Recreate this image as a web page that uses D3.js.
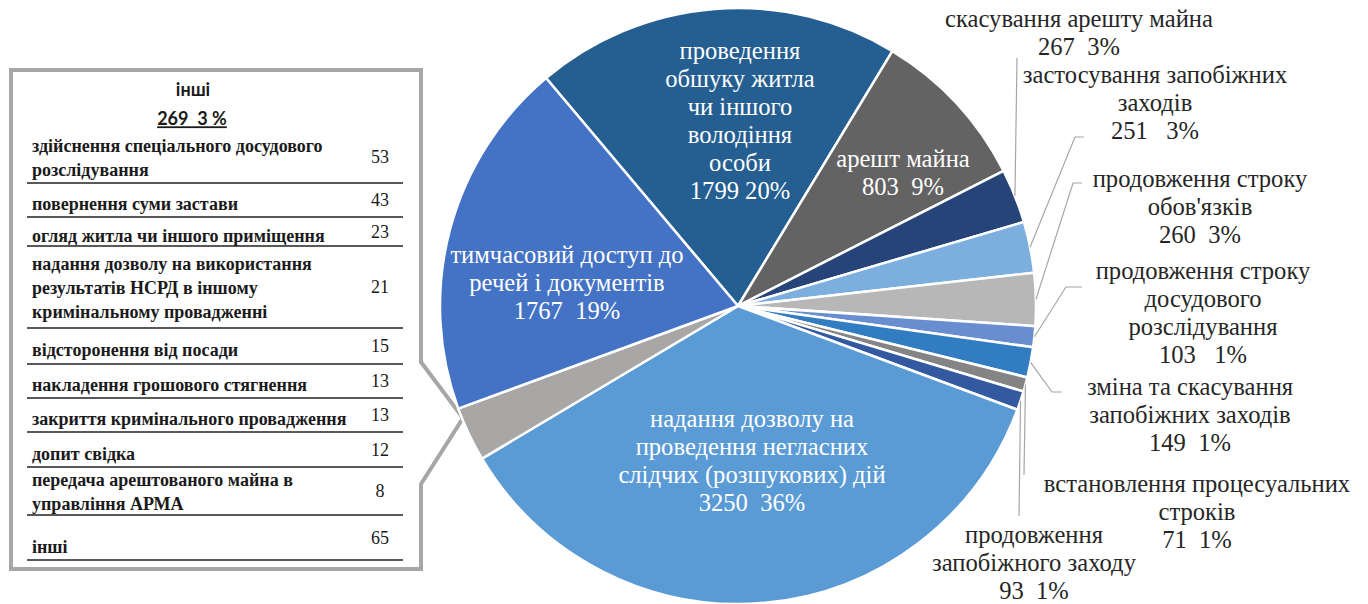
<!DOCTYPE html>
<html>
<head>
<meta charset="utf-8">
<script src="https://cdn.jsdelivr.net/npm/d3@7"></script>
<style>
  body { margin: 0; background: #fff; }
</style>
</head>
<body>
<script>
// slices, clockwise from the "проведення обшуку" slice
const categories = [
  ["проведення", "обшуку житла", "чи іншого", "володіння", "особи"],
  ["арешт майна"],
  ["скасування арешту майна"],
  ["застосування запобіжних", "заходів"],
  ["продовження строку", "обов'язків"],
  ["продовження строку", "досудового", "розслідування"],
  ["зміна та скасування", "запобіжних заходів"],
  ["встановлення процесуальних", "строків"],
  ["продовження", "запобіжного заходу"],
  ["надання дозволу на", "проведення негласних", "слідчих (розшукових) дій"],
  ["інші"],
  ["тимчасовий доступ до", "речей і документів"]
];
const values = [1799, 803, 267, 251, 260, 103, 149, 71, 93, 3250, 269, 1767];
const percents = ["20%", "9%", "3%", "3%", "3%", "1%", "1%", "1%", "1%", "36%", "3%", "19%"];
const valueGaps = [" ", "  ", "  ", "   ", "  ", "   ", "  ", "  ", "  ", "  ", "  ", "  "];

// breakdown of "інші"
const otherTitle = "інші";
const otherTotal = "269  3 %";
const otherLabels = [
  ["здійснення спеціального досудового", "розслідування"],
  ["повернення суми застави"],
  ["огляд житла чи іншого приміщення"],
  ["надання дозволу на використання", "результатів НСРД в іншому", "кримінальному провадженні"],
  ["відсторонення від посади"],
  ["накладення грошового стягнення"],
  ["закриття кримінального провадження"],
  ["допит свідка"],
  ["передача арештованого майна в", "управління АРМА"],
  ["інші"]
];
const otherValues = [53, 43, 23, 21, 15, 13, 13, 12, 8, 65];

const colors = ["#255e91", "#636363", "#264478", "#7cafdd", "#b7b7b7", "#698ed0",
                "#327dc2", "#848484", "#335aa1", "#5b9bd5", "#a9a6a6", "#4472c4"];

const width = 1368, height = 604;
const cx = 738, cy = 306, R = 298;
const startDeg = -40.1;
const fs = 24.6, lh = 28;
const SERIF = "Liberation Serif";
const SANS = "Lato";

const svg = d3.select("body").append("svg")
  .attr("width", width).attr("height", height);

// text helper: inline styles so the font can't be overridden
function txt(sel, family, size, weight) {
  return sel.append("text")
    .style("font-family", family)
    .style("font-size", size + "px")
    .style("font-weight", weight || "normal")
    .style("white-space", "pre");
}

// ---- callout box with the "інші" breakdown
const box = {x0: 11, y0: 70, x1: 421, y1: 569, wTop: 362, wBot: 484, tip: [463, 418]};
svg.append("path")
  .attr("d", `M${box.x0},${box.y0}H${box.x1}V${box.wTop}L${box.tip[0]},${box.tip[1]}L${box.x1},${box.wBot}V${box.y1}H${box.x0}Z`)
  .attr("fill", "#fff").attr("stroke", "#a6a6a6").attr("stroke-width", 4)
  .attr("stroke-linejoin", "miter");

txt(svg, SANS, 18, "bold").attr("x", 193).attr("y", 90).attr("dy", "0.35em")
  .attr("text-anchor", "middle").attr("fill", "#1a1a1a")
  .text(otherTitle);
txt(svg, SANS, 18, "bold").attr("x", 192).attr("y", 119).attr("dy", "0.35em")
  .attr("text-anchor", "middle").attr("fill", "#1a1a1a")
  .style("text-decoration", "underline")
  .text(otherTotal);

// row bottoms of the table
const rowBottoms = [183, 217, 246, 328, 364, 398, 432, 467, 515, 560];
const tableX0 = 27, tableX1 = 403, valX = 380, rowLh = 24;
let rowTop = 131;
otherLabels.forEach((lines, i) => {
  const bottom = rowBottoms[i];
  const n = lines.length;
  const mid = (rowTop + bottom) / 2;
  const textMid = mid + (n === 1 ? (i === otherLabels.length - 1 ? 9 : 4) : 1);
  const firstY = textMid - (n - 1) * rowLh / 2;
  const t = txt(svg, SERIF, 18, "bold").attr("fill", "#1a1a1a");
  lines.forEach((s, j) => {
    t.append("tspan").attr("x", 32).attr("y", firstY + j * rowLh).attr("dy", "0.35em").text(s);
  });
  txt(svg, SERIF, 18).attr("x", valX).attr("y", mid).attr("dy", "0.35em")
    .attr("text-anchor", "middle").attr("fill", "#1a1a1a")
    .text(otherValues[i]);
  svg.append("line").attr("x1", tableX0).attr("x2", tableX1)
    .attr("y1", bottom).attr("y2", bottom)
    .attr("stroke", "#222").attr("stroke-width", 1.6);
  rowTop = bottom;
});

// ---- pie
const pie = d3.pie().sort(null).value(d => d)
  .startAngle(startDeg * Math.PI / 180)
  .endAngle(startDeg * Math.PI / 180 + 2 * Math.PI);
const arcs = pie(values);
const arc = d3.arc().innerRadius(0).outerRadius(R);
const edge = d3.arc().innerRadius(R).outerRadius(R);

const g = svg.append("g").attr("transform", `translate(${cx},${cy})`);
g.selectAll("path.slice").data(arcs).join("path")
  .attr("class", "slice")
  .attr("d", arc)
  .attr("fill", (d, i) => colors[i])
  .attr("stroke", "#fff").attr("stroke-width", 2.5).attr("stroke-linejoin", "round");

// label blocks: [index, center x, first line y, inside?]
const labelPos = [
  [0, 740, 50, true],
  [1, 903, 158, true],
  [2, 1079, 18, false],
  [3, 1155, 74, false],
  [4, 1200, 178, false],
  [5, 1203, 270, false],
  [6, 1190, 386, false],
  [7, 1197, 483, false],
  [8, 1034, 534, false],
  [9, 752, 418, true],
  [11, 567, 254, true]
];

labelPos.forEach(([i, x, y, inside]) => {
  const lines = categories[i].concat([values[i] + valueGaps[i] + percents[i]]);
  const t = txt(svg, SERIF, fs)
    .attr("text-anchor", "middle")
    .attr("fill", inside ? "#fff" : "#262626");
  lines.forEach((s, j) => {
    t.append("tspan").attr("x", x).attr("y", y + j * lh).attr("dy", "0.35em").text(s);
  });
});

// leader lines: label-side points, ending on the slice's outer edge
const leaders = [
  [2, [[1017, 58]]],
  [3, [[1084, 137], [1075, 137]]],
  [4, [[1082, 183], [1073, 183]]],
  [5, [[1082, 287], [1066, 287]]],
  [6, [[1062, 392], [1052, 392]]],
  [7, [[1024, 475]]],
  [8, [[1019, 516]]]
];
const line = d3.line();
leaders.forEach(([i, pts]) => {
  const c = edge.centroid(arcs[i]);
  const end = [cx + c[0], cy + c[1]];
  svg.append("path")
    .attr("d", line(pts.concat([end])))
    .attr("fill", "none").attr("stroke", "#a6a6a6").attr("stroke-width", 1.2);
});
</script>
</body>
</html>
